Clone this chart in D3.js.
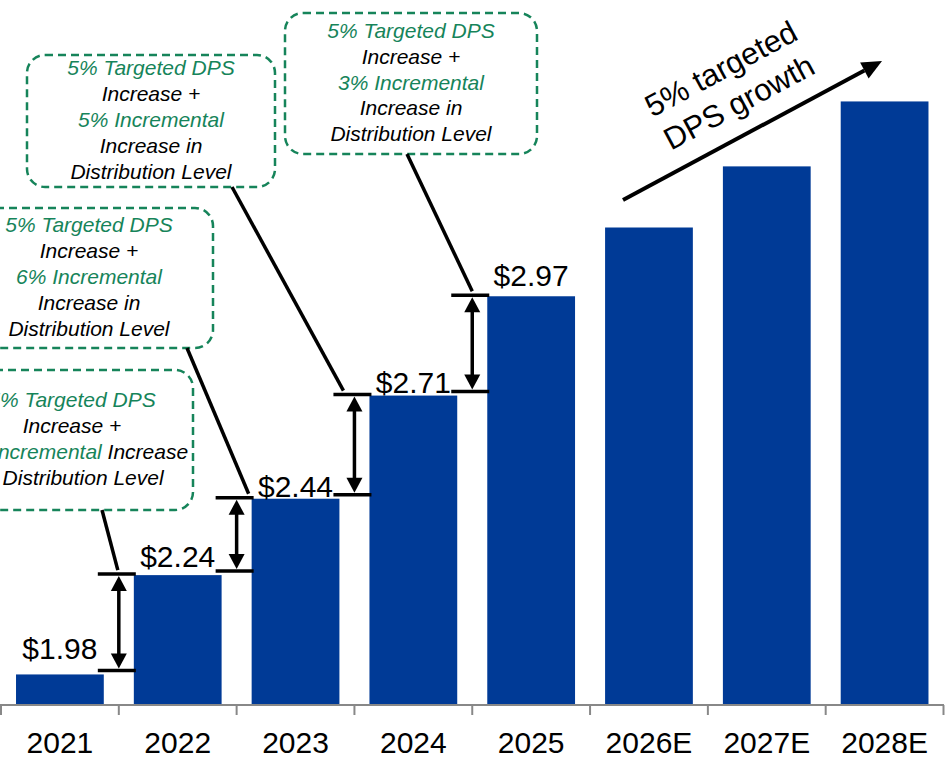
<!DOCTYPE html>
<html lang="en">
<head>
  <meta charset="UTF-8">
  <script src="https://d3js.org/d3.v7.min.js"></script>
  <style>
    body { margin: 0; background: #fff; }
    svg { display: block; font-family: Arial, "Liberation Sans", sans-serif; }
  </style>
</head>
<body>
<div id="chart"></div>
<script>
// ---- data ----
var years = ["2021", "2022", "2023", "2024", "2025", "2026E", "2027E", "2028E"];
var dps = [1.98, 2.24, 2.44, 2.71, 2.97, 3.15, 3.31, 3.48];
var valueLabels = ["$1.98", "$2.24", "$2.44", "$2.71", "$2.97", "", "", ""];
var growthText = ["5% targeted", "DPS growth"];
// one callout per step 2021->2022 ... 2024->2025, each line = [text, green?] pieces
var callouts = [
  [[["5% Targeted DPS", 1]], [["Increase +", 0]], [["8% Incremental", 1], [" Increase", 0]], [["in Distribution Level", 0]]],
  [[["5% Targeted DPS", 1]], [["Increase +", 0]], [["6% Incremental", 1]], [["Increase in", 0]], [["Distribution Level", 0]]],
  [[["5% Targeted DPS", 1]], [["Increase +", 0]], [["5% Incremental", 1]], [["Increase in", 0]], [["Distribution Level", 0]]],
  [[["5% Targeted DPS", 1]], [["Increase +", 0]], [["3% Incremental", 1]], [["Increase in", 0]], [["Distribution Level", 0]]]
];

// ---- layout ----
var W = 951, H = 760;
var baseY = 705;
var barColor = "#003A96";
var green = "#16845A";
var labelNudge = [15, 8, 2, 3, 10];
// callout boxes (annotation placement)
var boxes = [
  { x0: -49, x1: 193, y0: 370, y1: 510, sx: 102, ex: -1 },
  { x0: -35, x1: 213, y0: 208, y1: 348, sx: 187, ex: 12 },
  { x0: 27,  x1: 275, y0: 55,  y1: 187, sx: 232, ex: -11 },
  { x0: 285, x1: 537, y0: 13,  y1: 154, sx: 407, ex: 0 }
];

var svg = d3.select("#chart").append("svg")
  .attr("width", W)
  .attr("height", H);

var x = d3.scaleBand()
  .domain(years)
  .range([1, 943.5])
  .paddingInner(0.255)
  .paddingOuter(0.1275);

var y = d3.scaleLinear()
  .domain([1.9, 3.5])
  .range([baseY, baseY - 1.6 * 382]);

var step = x.step();
var gap = step - x.bandwidth();

// bars
svg.selectAll(".bar")
  .data(years)
  .enter()
  .append("rect")
    .attr("class", "bar")
    .attr("x", function(d) { return x(d); })
    .attr("y", function(d, i) { return y(dps[i]); })
    .attr("width", x.bandwidth())
    .attr("height", function(d, i) { return baseY - y(dps[i]); })
    .attr("fill", barColor);

// axis line + boundary ticks
svg.append("line")
  .attr("x1", 0).attr("x2", 944)
  .attr("y1", baseY).attr("y2", baseY)
  .attr("stroke", "#888").attr("stroke-width", 2);

svg.selectAll(".tick")
  .data(d3.range(years.length + 1))
  .enter()
  .append("line")
    .attr("x1", function(k) { return x.range()[0] + k * step; })
    .attr("x2", function(k) { return x.range()[0] + k * step; })
    .attr("y1", baseY).attr("y2", baseY + 10)
    .attr("stroke", "#888").attr("stroke-width", 2);

svg.selectAll(".year")
  .data(years)
  .enter()
  .append("text")
    .attr("x", function(d) { return x(d) + x.bandwidth() / 2; })
    .attr("y", 753)
    .attr("text-anchor", "middle")
    .attr("font-size", 30)
    .attr("fill", "#000")
    .text(function(d) { return d; });

// value labels
svg.selectAll(".val")
  .data(years.filter(function(d, i) { return valueLabels[i] !== ""; }))
  .enter()
  .append("text")
    .attr("x", function(d) { return x(d) + x.bandwidth() / 2; })
    .attr("y", function(d, i) { return y(dps[i]) - labelNudge[i]; })
    .attr("text-anchor", "middle")
    .attr("font-size", 30)
    .attr("fill", "#000")
    .text(function(d, i) { return valueLabels[i]; });

// step brackets with double arrows
function arrowHead(cx, tipY, dir) {
  // dir = 1 points up, -1 points down
  var h = 15, w = 8;
  return "M" + cx + "," + tipY +
    "L" + (cx - w) + "," + (tipY + dir * h) +
    "L" + (cx + w) + "," + (tipY + dir * h) + "Z";
}

var brackets = [];
for (var i = 0; i < 4; i++) {
  var bx = x(years[i + 1]) - gap / 2;
  brackets.push({
    bx: bx,
    lo: y(dps[i]) - 4,
    hi: y(dps[i + 1]) - 1
  });
}

var bg = svg.append("g");
brackets.forEach(function(b) {
  [b.lo, b.hi].forEach(function(yy) {
    bg.append("line")
      .attr("x1", b.bx - 21).attr("x2", b.bx + 17)
      .attr("y1", yy).attr("y2", yy)
      .attr("stroke", "#000").attr("stroke-width", 3.5);
  });
  bg.append("line")
    .attr("x1", b.bx).attr("x2", b.bx)
    .attr("y1", b.hi + 12).attr("y2", b.lo - 12)
    .attr("stroke", "#000").attr("stroke-width", 3.5);
  bg.append("path").attr("d", arrowHead(b.bx, b.hi + 2, 1)).attr("fill", "#000");
  bg.append("path").attr("d", arrowHead(b.bx, b.lo - 2, -1)).attr("fill", "#000");
});

// callout boxes
var lineH = 25.8;
boxes.forEach(function(bx, k) {
  var g = svg.append("g");
  g.append("rect")
    .attr("x", bx.x0).attr("y", bx.y0)
    .attr("width", bx.x1 - bx.x0).attr("height", bx.y1 - bx.y0)
    .attr("rx", 18).attr("ry", 18)
    .attr("fill", "#fff")
    .attr("stroke", green).attr("stroke-width", 2.5)
    .attr("stroke-dasharray", "8,5");

  var cx = (bx.x0 + bx.x1) / 2;
  var cy = (bx.y0 + bx.y1) / 2;
  var lines = callouts[k];
  var n = lines.length;
  lines.forEach(function(parts, li) {
    var t = g.append("text")
      .attr("x", cx)
      .attr("y", cy + (li - (n - 1) / 2) * lineH + 6)
      .attr("text-anchor", "middle")
      .attr("font-size", 21)
      .attr("font-style", "italic");
    parts.forEach(function(p) {
      t.append("tspan")
        .attr("fill", p[1] ? green : "#000")
        .text(p[0]);
    });
  });

  // connector from box bottom to bracket
  var b = brackets[k];
  svg.append("line")
    .attr("x1", bx.sx).attr("y1", bx.y1)
    .attr("x2", b.bx + bx.ex).attr("y2", b.hi - 4)
    .attr("stroke", "#000").attr("stroke-width", 3.5);
});

// growth arrow for estimates
var ga = { x1: 623, y1: 200, x2: 882, y2: 61 };
var ang = Math.atan2(ga.y2 - ga.y1, ga.x2 - ga.x1);
var headL = 20, headW = 9;
var bxh = ga.x2 - headL * Math.cos(ang), byh = ga.y2 - headL * Math.sin(ang);
svg.append("line")
  .attr("x1", ga.x1).attr("y1", ga.y1)
  .attr("x2", bxh).attr("y2", byh)
  .attr("stroke", "#000").attr("stroke-width", 4);
svg.append("path")
  .attr("d", "M" + ga.x2 + "," + ga.y2 +
    "L" + (bxh + headW * Math.sin(ang)) + "," + (byh - headW * Math.cos(ang)) +
    "L" + (bxh - headW * Math.sin(ang)) + "," + (byh + headW * Math.cos(ang)) + "Z")
  .attr("fill", "#000");

var gt = svg.append("text")
  .attr("transform", "translate(735,95) rotate(" + (ang * 180 / Math.PI) + ")")
  .attr("text-anchor", "middle")
  .attr("font-size", 31)
  .attr("fill", "#000");
growthText.forEach(function(s, i) {
  gt.append("tspan")
    .attr("x", 0)
    .attr("y", i === 0 ? -19 : 19)
    .text(s);
});
</script>
</body>
</html>
